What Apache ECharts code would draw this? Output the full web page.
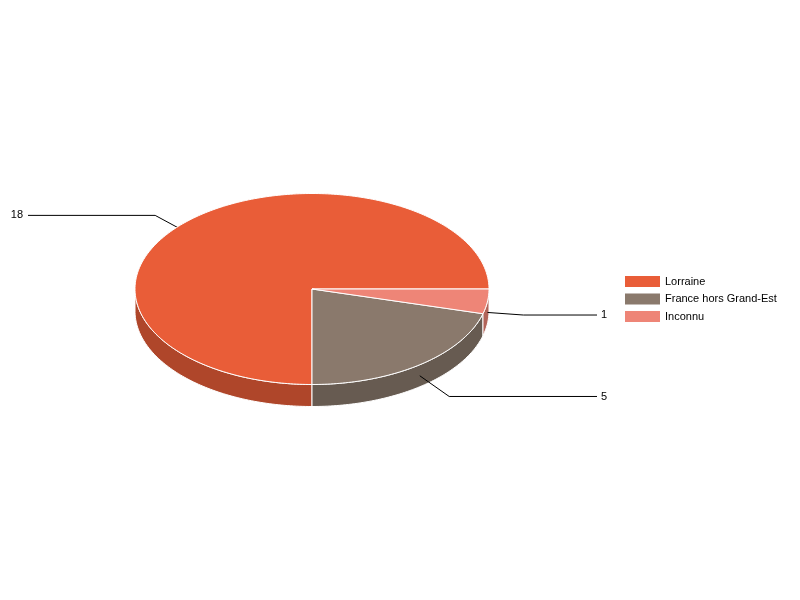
<!DOCTYPE html>
<html><head><meta charset="utf-8">
<script src="https://cdn.jsdelivr.net/npm/echarts@6/dist/echarts.min.js"></script>
<style>html,body{margin:0;padding:0;background:#fff}#c{width:800px;height:600px}</style>
</head><body><div id="c"></div>
<script>
const categories = ['Lorraine', 'France hors Grand-Est', 'Inconnu'];
const values = [18, 5, 1];
const topColors = ['#E95D38', '#8A796C', '#EE8577'];
const sideColors = ['#AF462A', '#675B51', '#B26459'];

const CX = 312, CY = 289, RX = 177, RY = 95.5, DEPTH = 22, LEAD = 36, LEFT_X = 28, RIGHT_X = 597;
const FONT = 'Liberation Sans, Arial, sans-serif';

const total = values.reduce((a, b) => a + b, 0);
const ranges = [];
let acc = 0;
values.forEach(v => {
  const start = -acc / total * 2 * Math.PI;
  acc += v;
  const end = -acc / total * 2 * Math.PI;
  ranges.push([end + 2 * Math.PI, start + 2 * Math.PI]);
});

function rim(t, dy) { return [CX + RX * Math.cos(t), CY + RY * Math.sin(t) + (dy || 0)]; }
function arcPts(a, b, dy) {
  const n = Math.max(2, Math.ceil((b - a) / (Math.PI / 180)));
  const pts = [];
  for (let k = 0; k <= n; k++) pts.push(rim(a + (b - a) * k / n, dy));
  return pts;
}

function makeRender(i) {
  return function (params, api) {
    const v = api.value(0);
    const lo = ranges[i][0], hi = ranges[i][1];
    const children = [];
    const a = Math.max(lo, 0), b = Math.min(hi, Math.PI);
    if (b > a) {
      const pts = arcPts(a, b, 0).concat(arcPts(a, b, DEPTH).reverse());
      children.push({ type: 'polygon', shape: { points: pts },
        style: { fill: sideColors[i], stroke: '#fff', lineWidth: 1 } });
    }
    const mid = (lo + hi) / 2;
    const anchor = rim(mid, DEPTH / 2);
    let dx = RX * Math.cos(mid), dy = RY * Math.sin(mid);
    const len = Math.sqrt(dx * dx + dy * dy); dx /= len; dy /= len;
    const elbow = [anchor[0] + LEAD * dx, anchor[1] + LEAD * dy];
    const right = dx >= 0;
    const endP = [right ? RIGHT_X : LEFT_X, elbow[1]];
    children.push({ type: 'polyline', shape: { points: [anchor, elbow, endP] },
      style: { stroke: '#000', lineWidth: 1, fill: null } });
    children.push({ type: 'text', x: right ? endP[0] + 4 : endP[0] - 5, y: endP[1],
      style: { text: String(v), fill: '#000', font: '11px ' + FONT,
        textAlign: right ? 'left' : 'right', textVerticalAlign: 'middle' } });
    const topPts = [[CX, CY]].concat(arcPts(lo, hi, 0));
    children.push({ type: 'polygon', shape: { points: topPts },
      style: { fill: topColors[i], stroke: '#fff', lineWidth: 1 } });
    return { type: 'group', children: children };
  };
}

const series = categories.map((name, i) => ({
  type: 'custom', name: name, coordinateSystem: 'none', silent: true,
  data: [values[i]], itemStyle: { color: topColors[i] },
  renderItem: makeRender(i)
}));

const chart = echarts.init(document.getElementById('c'));
chart.setOption({
  animation: false,
  backgroundColor: '#fff',
  legend: {
    data: categories, orient: 'vertical', left: 620, top: 271,
    icon: 'rect', itemWidth: 35, itemHeight: 11, itemGap: 6.5, selectedMode: false,
    textStyle: { fontSize: 11, fontFamily: FONT, color: '#000' }
  },
  series: series
});
</script></body></html>
